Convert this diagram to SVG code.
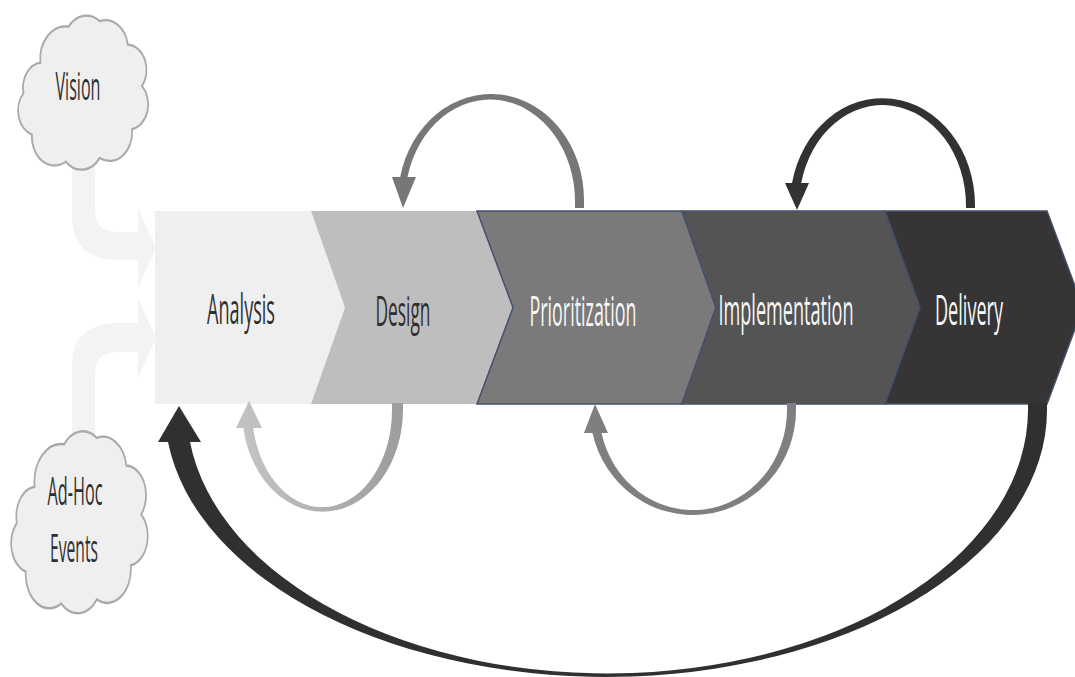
<svg xmlns="http://www.w3.org/2000/svg" width="1075" height="677" viewBox="0 0 1075 677">
<defs>
<style>
.lbl{font-family:"Open Sans","Liberation Sans",sans-serif;font-size:42px;text-anchor:middle}
.cl{font-size:38px}
.dark{fill:#2f2f2f}
.light{fill:#f7f7f7}
.cloud{fill:#efefef;stroke:#a9a9a9}
.faint{fill:#f3f3f3}
.band{stroke:#44516a;stroke-width:1.5}
</style>
<linearGradient id="gBL" x1="0" y1="0" x2="1" y2="0">
<stop offset="0" stop-color="#c4c4c4"/><stop offset="1" stop-color="#9c9c9c"/>
</linearGradient>
<path id="cloudShape" d="M 20 35 A 18 18 0 0 1 40 15 A 16 16 0 0 1 62 12 A 16 16 0 0 1 82 25 A 14 14 0 0 1 92 48 A 14 14 0 0 1 85 72 A 16 16 0 0 1 62 88 A 16 16 0 0 1 38 90 A 16 16 0 0 1 14 75 A 14 14 0 0 1 8 52 A 14 14 0 0 1 20 35 Z"/>
</defs>
<rect width="1075" height="677" fill="#ffffff"/>

<g id="input-arrows">
<path class="faint" d="M 72 165 L 72 215 Q 72 258 115 260 L 138 260 L 138 288 L 156 248 L 138 208 L 138 232 L 115 232 Q 95 230 95 212 L 95 165 Z"/>
<path class="faint" d="M 72 440 L 72 365 Q 72 325 115 323 L 138 323 L 138 298 L 156 338 L 138 378 L 138 352 L 115 352 Q 95 354 95 372 L 95 440 Z"/>
</g>

<g id="node-vision">
<use href="#cloudShape" class="cloud" transform="translate(12.2,-0.4) scale(1.41,1.8)" style="stroke-width:1.25"/>
<text class="lbl cl dark" transform="scale(0.5,1)" x="156" y="100" textLength="90" lengthAdjust="spacingAndGlyphs">Vision</text>
</g>

<g id="node-adhoc">
<use href="#cloudShape" class="cloud" transform="translate(5,412.4) scale(1.48,2.125)" style="stroke-width:1.15"/>
<text class="lbl cl dark" transform="scale(0.5,1)" x="150" y="505" textLength="110" lengthAdjust="spacingAndGlyphs">Ad-Hoc</text>
<text class="lbl cl dark" transform="scale(0.5,1)" x="148" y="562" textLength="96" lengthAdjust="spacingAndGlyphs">Events</text>
</g>

<g id="node-analysis">
<polygon points="155,211 311,211 345,307.5 311,404 155,404" fill="#efefef"/>
<text class="lbl dark" transform="scale(0.5,1)" x="482" y="324" textLength="136" lengthAdjust="spacingAndGlyphs">Analysis</text>
</g>

<g id="node-design">
<polygon points="311,211 477,211 513,307.5 477,404 311,404 345,307.5" fill="#bebebe"/>
<text class="lbl dark" transform="scale(0.5,1)" x="806" y="326" textLength="110" lengthAdjust="spacingAndGlyphs">Design</text>
</g>

<g id="node-prioritization">
<polygon class="band" points="477,211 682,211 716,307.5 682,404 477,404 513,307.5" fill="#7a7a7a"/>
<text class="lbl light" transform="scale(0.5,1)" x="1166" y="326" textLength="214" lengthAdjust="spacingAndGlyphs">Prioritization</text>
</g>

<g id="node-implementation">
<polygon class="band" points="682,211 885,211 920,307.5 885,404 682,404 716,307.5" fill="#545455"/>
<text class="lbl light" transform="scale(0.5,1)" x="1572" y="325" textLength="270" lengthAdjust="spacingAndGlyphs">Implementation</text>
</g>

<g id="node-delivery">
<polygon class="band" points="885,211 1047,211 1083,307.5 1047,404 885,404 920,307.5" fill="#363434"/>
<text class="lbl light" transform="scale(0.5,1)" x="1938" y="325" textLength="136" lengthAdjust="spacingAndGlyphs">Delivery</text>
</g>

<g id="connectors">
<g id="loop-prior-design" fill="#777777">
<path d="M 584 208 L 584 200 A 93 106 0 0 0 400.2 177 L 407.5 177 A 85 102 0 0 1 575 202 L 575 208 Z"/>
<polygon points="392,177 416,177 403,208"/>
</g>
<g id="loop-delivery-impl" fill="#323232">
<path d="M 975 208 L 975 205 A 92.5 107 0 0 0 792 183 L 801.2 183 A 83.5 101 0 0 1 966 206 L 966 208 Z"/>
<polygon points="785,183 809,183 797,210"/>
</g>
<g id="loop-design-analysis" fill="url(#gBL)">
<path d="M 403 403 L 403 410 A 80.5 102 0 0 1 243.3 428 L 253.2 428 A 70 97 0 0 0 392 410 L 392 403 Z"/>
<polygon points="236,428 262,428 249,401" fill="#c0c0c0"/>
</g>
<g id="loop-impl-prior" fill="#7f7f7f">
<path d="M 796 403 L 796 410 A 103 105 0 0 1 592.5 433 L 601.5 433 A 94 100 0 0 0 787 410 L 787 403 Z"/>
<polygon points="584,433 608,433 595,404"/>
</g>
<g id="loop-delivery-analysis" fill="#303030">
<path d="M 1047 403 L 1047 410 A 441.1 267 0 0 1 168 442 L 190 442 A 420.6 264 0 0 0 1028 410 L 1028 403 Z"/>
<polygon points="158,442 201,442 179,406"/>
</g>
</g>
</svg>
